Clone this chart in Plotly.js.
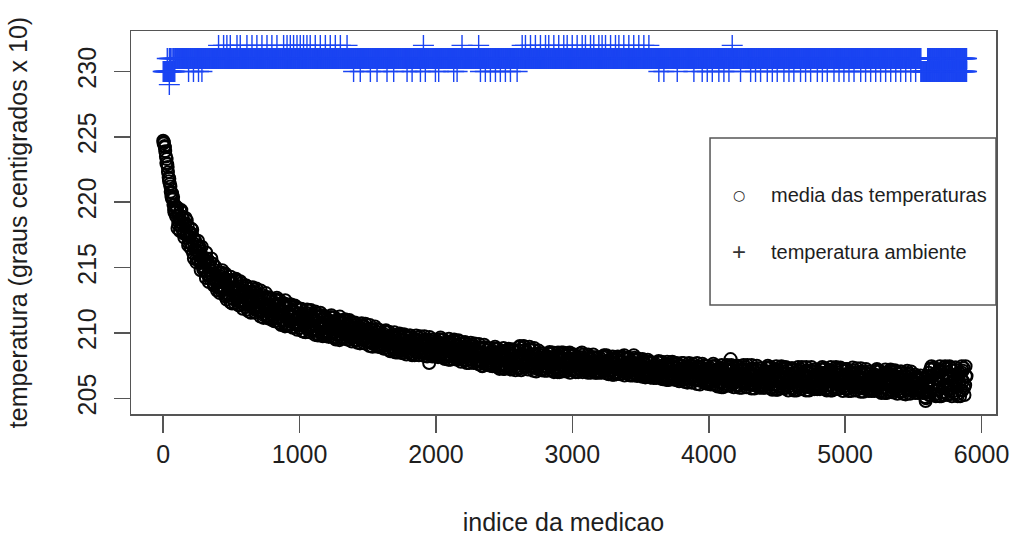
<!DOCTYPE html>
<html>
<head>
<meta charset="utf-8">
<script src="https://cdn.plot.ly/plotly-3.0.1.min.js"></script>
<style>
html, body { margin: 0; padding: 0; background: #ffffff; }
#chart { width: 1013px; height: 536px; }
</style>
</head>
<body>
<div id="chart"></div>
<script>
// ---------- DATA ----------
// mean temperature (graus centigrados x 10), sampled readings.
// mediaY: indices 0, 10, 20, ... ; mediaYOdd: indices 5, 15, ... ; mediaYMid: indices 3, 13, ...
const SAMPLE_STEP = 10;
const mediaY = [
  224.7, 224.3, 223.5, 222.9, 221.9, 221.4, 220.5, 220.2, 219.4, 219.3,
  219.4, 218.3, 218.7, 218.2, 218.9, 217.6, 218.3, 217.5, 218.2, 217.4,
  216.9, 217.6, 216.1, 216.8, 216.3, 216.6, 215.5, 216.5, 215.4, 215.8,
  215.5, 214.7, 215.7, 214.4, 215.2, 214.5, 214.7, 213.8, 214.8, 213.9,
  213.5, 214.4, 213.9, 214.6, 213.3, 214.2, 212.9, 213.6, 213.3, 214.0,
  213.9, 212.6, 213.3, 212.8, 214.0, 212.2, 213.3, 212.4, 213.6, 212.8,
  212.35, 213.45, 211.8, 212.85, 212.45, 213.1, 211.9, 213.3, 212.15, 212.75,
  212.55, 211.65, 212.95, 211.4, 212.6, 211.8, 212.1, 211.15, 212.55, 211.5,
  211.1, 212.2, 211.75, 212.55, 211.2, 212.15, 210.75, 211.65, 211.4, 212.25,
  212.05, 210.65, 211.45, 210.9, 212.15, 210.4, 211.6, 210.7, 211.9, 211.1,
  210.7, 211.8, 210.15, 211.25, 210.85, 211.5, 210.3, 211.7, 210.6, 211.2,
  211.05, 210.15, 211.5, 209.95, 211.2, 210.4, 210.75, 209.75, 211.2, 210.15,
  209.9, 210.85, 210.5, 211.2, 210.0, 210.9, 209.65, 210.5, 210.25, 211.0,
  210.85, 209.7, 210.4, 209.95, 210.95, 209.5, 210.5, 209.75, 210.75, 210.1,
  209.85, 210.6, 209.4, 210.2, 209.9, 210.4, 209.5, 210.55, 209.7, 210.1,
  210.05, 209.35, 210.35, 209.2, 210.05, 209.5, 209.75, 209.0, 210.05, 209.35,
  209.0, 209.75, 209.5, 210.1, 209.05, 209.75, 208.7, 209.45, 209.2, 209.85,
  209.7, 208.7, 209.3, 208.95, 209.85, 208.5, 209.4, 208.8, 209.65, 209.1,
  208.85, 209.65, 208.4, 209.25, 208.95, 209.5, 208.55, 209.65, 208.8, 209.25,
  209.2, 208.55, 209.5, 208.4, 209.3, 207.7, 209.0, 208.25, 209.35, 208.65,
  208.35, 209.2, 208.85, 209.5, 208.45, 209.2, 208.15, 208.9, 208.65, 209.3,
  209.25, 208.2, 208.8, 208.4, 209.35, 208.0, 208.95, 208.25, 209.15, 208.6,
  208.3, 209.15, 207.9, 208.7, 208.4, 209.0, 207.95, 209.1, 208.2, 208.7,
  208.6, 207.9, 208.9, 207.75, 207.45, 208.1, 208.35, 207.6, 208.7, 207.9,
  207.65, 208.5, 208.15, 208.8, 207.7, 208.5, 207.45, 208.15, 207.95, 208.6,
  208.55, 207.5, 208.1, 207.7, 208.65, 207.2, 208.25, 207.55, 208.5, 207.95,
  207.65, 208.9, 207.3, 208.15, 207.85, 208.95, 207.45, 208.55, 207.7, 208.2,
  208.1, 207.4, 208.85, 207.3, 208.25, 207.6, 207.95, 207.2, 208.3, 207.5,
  207.25, 208.05, 207.8, 208.45, 207.45, 208.15, 207.1, 207.85, 207.65, 208.3,
  208.2, 207.2, 208.5, 207.5, 208.4, 207.1, 207.95, 207.35, 208.5, 207.7,
  207.45, 208.25, 207.05, 207.9, 207.6, 208.15, 207.2, 208.5, 207.45, 207.9,
  207.85, 207.2, 208.2, 207.1, 208.0, 207.4, 207.7, 206.95, 208.05, 207.35,
  207.05, 207.85, 207.6, 208.25, 207.2, 208.3, 206.9, 207.65, 207.4, 208.05,
  207.95, 206.95, 207.6, 207.25, 208.15, 206.85, 207.75, 207.1, 208.3, 207.45,
  207.2, 208.0, 206.8, 207.6, 207.3, 208.3, 206.9, 208.0, 207.15, 207.6,
  207.55, 206.9, 207.85, 206.75, 207.6, 207.05, 207.35, 206.6, 207.7, 206.95,
  206.7, 207.4, 207.2, 207.75, 206.85, 207.45, 206.55, 207.25, 207.0, 207.6,
  207.55, 206.6, 207.2, 206.85, 207.65, 206.45, 207.3, 206.7, 207.5, 207.0,
  206.75, 207.5, 206.4, 207.2, 206.9, 207.4, 206.5, 207.5, 206.7, 207.15,
  207.1, 206.45, 207.45, 206.35, 207.2, 206.65, 206.95, 206.2, 207.25, 206.55,
  206.2, 207.1, 206.8, 207.45, 206.35, 207.15, 206.05, 206.8, 206.6, 207.3,
  207.2, 206.1, 206.8, 206.4, 207.4, 206.0, 208.0, 206.3, 207.3, 206.7,
  206.4, 207.35, 205.95, 206.9, 206.6, 207.2, 206.15, 207.4, 206.45, 206.95,
  206.85, 206.1, 207.3, 206.0, 207.05, 206.45, 206.7, 205.85, 207.1, 206.3,
  205.95, 206.95, 206.6, 207.35, 206.15, 207.05, 205.8, 206.65, 206.45, 207.2,
  207.1, 205.9, 206.65, 206.2, 207.3, 205.8, 206.85, 206.05, 207.15, 206.5,
  206.15, 207.15, 205.75, 206.7, 206.4, 207.05, 205.95, 207.25, 206.3, 206.85,
  206.7, 205.95, 207.15, 205.85, 206.95, 206.3, 206.6, 205.75, 207.05, 206.15,
  205.85, 206.85, 206.5, 207.25, 206.05, 206.95, 205.75, 206.6, 206.4, 207.15,
  207.0, 205.85, 206.6, 206.2, 207.25, 205.75, 206.8, 206.05, 207.1, 206.45,
  206.15, 207.1, 205.7, 206.65, 206.35, 206.95, 205.9, 207.15, 206.2, 206.7,
  206.6, 205.85, 207.05, 205.75, 206.8, 206.2, 206.45, 205.65, 206.85, 206.05,
  205.7, 206.65, 206.35, 207.1, 205.9, 206.7, 205.55, 206.4, 206.2, 206.95,
  206.8, 205.65, 206.4, 206.0, 207.05, 205.55, 206.55, 205.85, 206.9, 206.25,
  205.95, 206.9, 205.5, 206.45, 206.1, 206.7, 205.65, 206.9, 205.95, 206.45,
  206.25, 205.65, 206.65, 205.55, 206.4, 205.9, 206.1, 205.4, 206.45, 204.8,
  205.45, 206.7, 206.3, 207.3, 205.75, 206.85, 205.3, 206.45, 206.15, 207.15,
  207.0, 205.45, 206.45, 205.9, 207.3, 205.3, 206.7, 205.75, 207.15, 206.3,
  205.9, 207.15, 205.3, 206.6, 206.15, 207.0, 205.6, 207.3, 206.0, 206.7
];
const ODD_OFFSET = 5;
const mediaYOdd = [
  224.6, 223.9, 223.3, 222.3, 221.8, 220.8, 220.7, 219.8, 219.8, 218.9,
  218.0, 218.95, 219.35, 218.0, 218.75, 217.3, 218.8, 217.6, 216.9, 217.7,
  218.0, 216.7, 215.7, 217.05, 215.7, 217.05, 215.9, 214.8, 215.9, 215.05,
  215.35, 216.15, 214.5, 213.9, 215.4, 214.55, 215.3, 213.75, 214.45, 213.25,
  213.6, 213.05, 214.6, 214.1, 213.5, 214.55, 212.55, 214.0, 212.85, 214.3,
  212.25, 213.4, 214.05, 212.65, 213.6, 212.1, 213.95, 212.8, 212.2, 213.25,
  213.65, 212.5, 211.65, 213.15, 212.0, 213.5, 212.45, 211.55, 212.75, 212.0,
  212.4, 213.25, 211.65, 211.15, 212.75, 211.95, 212.75, 211.3, 212.1, 211.0,
  211.4, 210.9, 212.5, 212.05, 211.45, 212.5, 210.6, 212.1, 210.95, 212.5,
  210.55, 211.6, 212.15, 210.9, 211.75, 210.45, 212.1, 211.05, 210.55, 211.5,
  211.85, 210.85, 210.1, 211.45, 210.45, 211.8, 210.9, 210.05, 211.15, 210.5,
  210.9, 211.65, 210.25, 209.8, 211.3, 210.55, 211.35, 210.0, 210.8, 209.75,
  210.15, 209.7, 211.2, 210.75, 210.25, 211.2, 209.5, 210.9, 209.85, 211.25,
  209.55, 210.5, 211.0, 209.9, 210.7, 209.5, 211.0, 210.05, 209.6, 210.45,
  210.8, 209.85, 209.25, 210.45, 209.55, 210.75, 209.95, 209.2, 210.15, 209.6,
  209.95, 210.6, 209.35, 208.95, 210.25, 209.6, 210.3, 209.1, 209.8, 208.9,
  209.2, 208.8, 210.1, 209.7, 209.25, 210.1, 208.6, 209.8, 208.85, 210.05,
  208.5, 209.4, 209.9, 208.85, 209.65, 208.45, 209.9, 209.0, 208.6, 209.45,
  209.8, 208.95, 208.3, 209.5, 208.6, 209.8, 209.05, 208.3, 209.25, 208.75,
  209.1, 209.75, 208.55, 208.2, 209.45, 208.85, 209.5, 208.4, 209.05, 208.2,
  208.55, 208.15, 209.5, 209.1, 208.6, 209.5, 208.0, 209.2, 208.3, 209.55,
  207.95, 208.9, 209.4, 208.35, 209.1, 207.95, 209.45, 208.5, 208.05, 208.95,
  209.25, 208.35, 207.7, 208.95, 208.05, 209.25, 208.45, 207.7, 208.65, 208.15,
  208.5, 209.15, 207.9, 207.5, 208.85, 208.15, 208.9, 207.65, 208.4, 207.5,
  207.85, 207.45, 208.8, 208.35, 207.9, 208.8, 207.25, 208.5, 207.6, 208.85,
  207.25, 208.25, 208.7, 207.65, 208.45, 207.3, 208.75, 207.85, 207.4, 208.3,
  208.65, 209.0, 207.15, 208.4, 207.5, 208.7, 207.9, 207.2, 208.95, 207.65,
  208.0, 208.7, 207.45, 207.05, 208.4, 207.75, 208.45, 207.25, 208.0, 207.1,
  207.45, 207.1, 208.4, 208.05, 207.65, 208.5, 207.0, 208.2, 207.3, 208.5,
  207.0, 207.9, 208.45, 207.4, 208.2, 207.05, 208.45, 207.6, 207.2, 208.05,
  208.35, 207.55, 207.0, 208.1, 207.3, 208.4, 207.65, 207.0, 207.9, 207.4,
  207.75, 208.35, 207.25, 206.95, 208.15, 207.55, 208.15, 207.1, 207.75, 206.95,
  207.3, 206.95, 208.15, 207.8, 207.4, 208.2, 206.85, 207.9, 207.1, 208.2,
  206.8, 207.65, 208.15, 207.2, 207.9, 206.85, 208.2, 207.35, 206.95, 207.75,
  208.1, 207.3, 206.75, 207.8, 207.0, 208.1, 207.4, 206.7, 207.6, 207.1,
  207.45, 208.0, 206.9, 206.6, 207.8, 207.15, 207.8, 206.75, 207.35, 206.55,
  206.9, 206.55, 207.75, 207.4, 207.0, 207.8, 206.45, 207.55, 206.7, 207.8,
  206.4, 207.25, 207.75, 206.75, 207.45, 206.4, 207.7, 206.95, 206.5, 207.3,
  207.7, 206.85, 206.25, 207.4, 206.5, 207.7, 206.95, 206.2, 207.15, 206.65,
  207.0, 207.7, 206.45, 206.05, 207.4, 206.75, 207.5, 206.3, 207.0, 206.1,
  206.4, 206.05, 207.45, 207.1, 206.55, 207.5, 205.9, 207.25, 206.2, 207.55,
  205.85, 206.9, 207.45, 206.3, 207.2, 205.95, 207.55, 206.6, 206.15, 207.1,
  207.5, 206.5, 205.8, 207.2, 206.2, 207.55, 206.65, 205.85, 206.95, 206.35,
  206.75, 207.55, 206.15, 205.75, 207.25, 206.55, 207.3, 206.0, 206.8, 205.8,
  206.2, 205.8, 207.3, 206.9, 206.4, 207.4, 205.65, 207.05, 206.05, 207.45,
  205.65, 206.75, 207.35, 206.15, 207.05, 205.75, 207.4, 206.4, 205.9, 206.9,
  207.3, 206.3, 205.6, 207.0, 206.0, 207.4, 206.5, 205.7, 206.8, 206.2,
  206.6, 207.4, 206.0, 205.6, 207.1, 206.4, 207.2, 205.9, 206.7, 205.7,
  206.1, 205.7, 207.2, 206.8, 206.3, 207.3, 205.6, 207.0, 206.0, 207.4,
  205.6, 206.7, 207.3, 206.1, 207.0, 205.7, 207.35, 206.35, 205.85, 206.85,
  207.25, 206.25, 205.55, 206.95, 205.95, 207.35, 206.4, 205.6, 206.7, 206.1,
  206.5, 207.3, 205.9, 205.5, 207.0, 206.3, 207.05, 205.75, 206.55, 205.55,
  205.95, 205.55, 207.05, 206.65, 206.15, 207.1, 205.4, 206.8, 205.8, 207.2,
  205.4, 206.5, 207.1, 205.9, 206.8, 205.45, 207.15, 206.15, 205.65, 206.65,
  207.05, 206.05, 205.35, 206.7, 205.7, 207.1, 206.2, 205.35, 206.45, 205.85,
  206.2, 206.8, 205.7, 205.4, 206.5, 205.95, 206.55, 205.55, 205.1, 205.4,
  205.8, 205.25, 207.2, 206.7, 206.05, 207.35, 205.15, 206.95, 205.65, 207.45,
  205.15, 206.55, 207.35, 205.8, 206.95, 205.25, 207.45, 206.15, 205.5, 206.8,
  207.35, 206.05, 205.15, 206.95, 205.65, 207.45, 206.3, 205.25, 206.7
];
const MID_OFFSET = 3;
const mediaYMid = [
  224.5, 224.2, 223.0, 222.7, 221.6, 221.2, 220.3, 220.4, 219.2, 219.6,
  219.6, 218.5, 217.8, 219.4, 218.3, 217.7, 218.4, 218.6, 216.7, 217.6,
  216.45, 217.9, 217.25, 216.4, 215.4, 216.2, 216.65, 215.35, 216.6, 214.85,
  215.65, 214.2, 215.65, 215.1, 214.15, 215.7, 214.25, 213.6, 215.05, 214.2,
  213.9, 214.55, 213.25, 214.8, 214.05, 212.8, 213.8, 212.95, 214.05, 212.35,
  213.95, 212.9, 212.3, 214.15, 213.1, 212.45, 213.4, 213.8, 211.85, 213.0,
  212.0, 213.6, 213.1, 212.4, 211.55, 212.6, 213.15, 212.0, 213.4, 211.7,
  212.65, 211.25, 212.75, 212.25, 211.45, 213.05, 211.65, 211.1, 212.7, 211.9,
  211.65, 212.35, 211.1, 212.7, 212.05, 210.75, 211.8, 211.0, 212.15, 210.5,
  212.05, 211.1, 210.55, 212.2, 211.3, 210.75, 211.6, 212.0, 210.25, 211.3,
  210.4, 211.85, 211.4, 210.8, 210.05, 211.0, 211.5, 210.45, 211.75, 210.2,
  211.1, 209.85, 211.25, 210.8, 210.1, 211.55, 210.35, 209.8, 211.3, 210.55,
  210.35, 211.0, 209.9, 211.35, 210.75, 209.65, 210.6, 209.9, 210.95, 209.45,
  210.9, 210.05, 209.6, 211.05, 210.25, 209.75, 210.55, 210.85, 209.35, 210.3,
  209.45, 210.75, 210.4, 209.8, 209.2, 210.05, 210.5, 209.55, 210.7, 209.3,
  210.1, 209.0, 210.25, 209.85, 209.15, 210.5, 209.4, 208.95, 210.25, 209.6,
  209.4, 209.95, 209.0, 210.2, 209.65, 208.7, 209.5, 208.9, 209.8, 208.55,
  209.75, 209.0, 208.5, 209.95, 209.2, 208.7, 209.5, 209.85, 208.35, 209.25,
  208.5, 209.8, 209.4, 208.9, 208.3, 209.15, 209.5, 208.65, 209.75, 208.5,
  209.25, 208.25, 209.4, 209.05, 208.45, 209.7, 208.65, 208.2, 209.5, 208.9,
  208.7, 209.35, 208.3, 209.65, 209.1, 208.1, 209.0, 208.35, 209.3, 207.95,
  209.3, 208.5, 208.0, 209.5, 208.7, 208.2, 209.0, 209.35, 207.8, 208.8,
  207.95, 209.3, 208.9, 208.3, 207.7, 208.6, 209.0, 208.1, 209.2, 207.85,
  208.65, 207.6, 208.8, 208.4, 207.75, 209.1, 208.0, 207.55, 208.85, 208.2,
  208.0, 208.65, 207.6, 208.95, 208.35, 207.4, 208.3, 207.6, 208.6, 207.25,
  208.6, 207.8, 207.3, 208.8, 208.0, 207.55, 208.3, 208.65, 207.15, 208.15,
  207.3, 208.65, 208.3, 207.75, 209.0, 208.05, 208.5, 207.6, 208.75, 207.4,
  208.15, 207.1, 208.3, 207.95, 207.3, 208.65, 207.6, 207.15, 208.45, 207.8,
  207.65, 208.25, 207.3, 208.55, 208.05, 207.1, 207.9, 207.3, 208.25, 207.0,
  208.25, 207.5, 207.05, 208.5, 207.75, 207.3, 208.05, 208.4, 206.95, 207.85,
  207.15, 208.35, 208.0, 207.55, 207.0, 207.8, 208.15, 207.35, 208.35, 207.15,
  207.9, 206.95, 208.05, 207.75, 207.15, 208.35, 207.4, 206.95, 208.15, 207.6,
  207.45, 208.0, 207.1, 208.3, 207.8, 206.9, 207.7, 207.15, 208.0, 206.8,
  208.0, 207.25, 206.85, 208.2, 207.5, 207.1, 207.8, 208.1, 206.75, 207.6,
  206.9, 208.1, 207.75, 207.3, 206.75, 207.5, 207.9, 207.1, 208.05, 206.85,
  207.6, 206.65, 207.7, 207.4, 206.8, 207.95, 207.05, 206.6, 207.75, 207.2,
  207.05, 207.6, 206.7, 207.85, 207.4, 206.5, 207.3, 206.75, 207.6, 206.4,
  207.6, 206.85, 206.45, 207.8, 207.05, 206.65, 207.35, 207.65, 206.3, 207.15,
  206.4, 207.7, 207.35, 206.85, 206.2, 207.05, 207.45, 206.6, 207.65, 206.4,
  207.15, 206.1, 207.35, 207.0, 206.35, 207.65, 206.6, 206.15, 207.45, 206.8,
  206.6, 207.3, 206.25, 207.65, 207.05, 206.0, 206.95, 206.25, 207.25, 205.85,
  207.25, 206.4, 205.95, 207.55, 206.7, 206.2, 207.1, 207.45, 205.85, 206.9,
  206.0, 207.5, 207.1, 206.5, 205.8, 206.8, 207.25, 206.25, 207.55, 206.05,
  206.95, 205.75, 207.15, 206.75, 206.05, 207.5, 206.3, 205.8, 207.3, 206.6,
  206.4, 207.1, 206.0, 207.5, 206.9, 205.8, 206.75, 206.05, 207.15, 205.65,
  207.15, 206.25, 205.75, 207.45, 206.55, 206.0, 206.9, 207.3, 205.6, 206.7,
  205.8, 207.3, 206.9, 206.3, 205.6, 206.6, 207.1, 206.1, 207.4, 205.9,
  206.8, 205.6, 207.0, 206.6, 205.9, 207.4, 206.2, 205.7, 207.2, 206.5,
  206.3, 207.0, 205.9, 207.4, 206.8, 205.7, 206.7, 206.0, 207.1, 205.6,
  207.1, 206.2, 205.7, 207.4, 206.5, 206.0, 206.85, 207.25, 205.55, 206.65,
  205.75, 207.25, 206.85, 206.25, 205.55, 206.5, 207.0, 206.0, 207.3, 205.8,
  206.7, 205.5, 206.9, 206.5, 205.8, 207.25, 206.05, 205.55, 207.05, 206.35,
  206.15, 206.85, 205.75, 207.25, 206.65, 205.55, 206.5, 205.8, 206.9, 205.4,
  206.9, 206.0, 205.5, 207.2, 206.3, 205.75, 206.65, 207.05, 205.35, 206.45,
  205.55, 207.05, 206.65, 206.0, 205.3, 206.3, 206.8, 205.8, 207.05, 205.55,
  206.3, 205.4, 206.45, 206.15, 205.6, 206.75, 205.85, 205.45, 206.5, 205.0,
  206.05, 206.95, 205.5, 207.45, 206.7, 205.25, 206.55, 205.65, 207.1, 205.15,
  207.1, 205.9, 205.25, 207.45, 206.3, 205.65, 206.8, 207.35, 205.15, 206.55,
  205.4, 207.35, 206.8, 206.05, 205.15, 206.45, 207.1, 205.8, 207.45
];

// ambient temperature: runs of constant reading (index ranges) ...
const ambRunStart = [0,   85,   5555, 5605, 5605];
const ambRunEnd   = [85,  5555, 5605, 5890, 5890];
const ambRunLevel = [230, 231,  230,  231,  230];
// ... plus isolated readings at other levels (indices)
const amb229X = [45];
const amb231X = [30, 45, 55, 65, 75];
const amb232X = [406, 443, 467, 492, 541, 565, 614, 651, 687, 724, 761, 797, 834, 883, 908, 932,
  956, 981, 1005, 1029, 1054, 1078, 1115, 1152, 1189, 1225, 1262, 1299, 1348, 1908, 2191, 2313,
  2632, 2656, 2693, 2729, 2766, 2803, 2827, 2864, 2900, 2937, 2962, 2999, 3035, 3072, 3096, 3133,
  3157, 3194, 3218, 3243, 3280, 3316, 3341, 3377, 3414, 3450, 3487, 3524, 3561, 4172];
const amb230X = [186, 222, 259, 284, 1396, 1445, 1519, 1568, 1641, 1690, 1788, 1825, 1886, 1922,
  1996, 2020, 2130, 2155, 2326, 2362, 2399, 2436, 2472, 2509, 2546, 2595, 3634, 3671, 3769, 3891,
  3952, 3989, 4026, 4074, 4111, 4148, 4233, 4307, 4343, 4380, 4429, 4466, 4502, 4551, 4588, 4624,
  4673, 4710, 4747, 4796, 4833, 4869, 4918, 4955, 4991, 5028, 5065, 5114, 5150, 5187, 5224, 5260,
  5297, 5334, 5371, 5407, 5444, 5481, 5517];

const xTickVals = [0, 1000, 2000, 3000, 4000, 5000, 6000];
const xTickText = ['0', '1000', '2000', '3000', '4000', '5000', '6000'];
const yTickVals = [205, 210, 215, 220, 225, 230];
const yTickText = ['205', '210', '215', '220', '225', '230'];

const seriesNames = ['media das temperaturas', 'temperatura ambiente'];
const legendSymbols = ['\u25CB', '+'];
const xTitle = 'indice da medicao';
const yTitle = 'temperatura (graus centigrados x 10)';

// ---------- BUILD TRACES ----------
const mediaX = [], mediaAllY = [];
[[mediaY, 0], [mediaYMid, MID_OFFSET], [mediaYOdd, ODD_OFFSET]].forEach(([arr, off]) => {
  arr.forEach((v, i) => { mediaX.push(i * SAMPLE_STEP + off); mediaAllY.push(v); });
});

const RUN_DRAW_STEP = 5;
const ambX = [], ambY = [];
for (let r = 0; r < ambRunStart.length; r++) {
  for (let i = ambRunStart[r]; i <= ambRunEnd[r]; i += RUN_DRAW_STEP) {
    ambX.push(i); ambY.push(ambRunLevel[r]);
  }
}
[[amb229X, 229], [amb230X, 230], [amb231X, 231], [amb232X, 232]].forEach(([xs, lvl]) => {
  xs.forEach(x => { ambX.push(x); ambY.push(lvl); });
});

const FONT = '"Liberation Sans", Arial, Helvetica, sans-serif';
const AX = '#555555';
const TXT = '#1e1e1e';
const BLUE = '#1a44f2';

const traces = [
  {
    type: 'scatter', mode: 'markers', name: seriesNames[0],
    x: mediaX, y: mediaAllY,
    marker: { symbol: 'circle-open', size: 12, color: '#000000', line: { width: 2.0, color: '#000000' } },
    hoverinfo: 'skip', showlegend: false
  },
  {
    type: 'scatter', mode: 'markers', name: seriesNames[1],
    x: ambX, y: ambY,
    marker: { symbol: 'cross-thin-open', size: 15, color: BLUE, line: { width: 1.4, color: BLUE } },
    hoverinfo: 'skip', showlegend: false
  }
];

// legend (R style: black symbols, framed box)
const LEG_SYM_X = 0.7029, LEG_TXT_X = 0.7376;
const LEG_ROW_Y = [0.5718, 0.4230];
const annotations = [
  { text: legendSymbols[0], x: LEG_SYM_X, y: LEG_ROW_Y[0], font: { family: '"DejaVu Sans", sans-serif', size: 14, color: TXT } },
  { text: legendSymbols[1], x: LEG_SYM_X, y: LEG_ROW_Y[1], font: { family: FONT, size: 24, color: '#333333' } },
  { text: seriesNames[0], x: LEG_TXT_X, y: LEG_ROW_Y[0], xanchor: 'left', font: { family: FONT, size: 20, color: TXT } },
  { text: seriesNames[1], x: LEG_TXT_X, y: LEG_ROW_Y[1], xanchor: 'left', font: { family: FONT, size: 20, color: TXT } }
].map(a => Object.assign({ xref: 'paper', yref: 'paper', showarrow: false, xanchor: 'center', yanchor: 'middle' }, a));

const layout = {
  width: 1013, height: 536,
  margin: { l: 131, r: 17, t: 31, b: 122 },
  paper_bgcolor: '#ffffff', plot_bgcolor: '#ffffff',
  font: { family: FONT, color: TXT, size: 25 },
  showlegend: false,
  xaxis: {
    range: [-236, 6106], tickmode: 'array', tickvals: xTickVals, ticktext: xTickText,
    showgrid: false, zeroline: false, showline: true, mirror: true,
    linecolor: AX, linewidth: 1.5,
    ticks: 'outside', ticklen: 17, tickwidth: 1.5, tickcolor: AX,
    tickfont: { family: FONT, size: 25, color: TXT },
    title: { text: xTitle, font: { family: FONT, size: 25, color: TXT }, standoff: 47 }
  },
  yaxis: {
    range: [203.8, 233.1], tickmode: 'array', tickvals: yTickVals, ticktext: yTickText,
    tickangle: -90, ticklabelstandoff: 8,
    showgrid: false, zeroline: false, showline: true, mirror: true,
    linecolor: AX, linewidth: 1.5,
    ticks: 'outside', ticklen: 16, tickwidth: 1.5, tickcolor: AX,
    tickfont: { family: FONT, size: 25, color: TXT },
    title: { text: yTitle, font: { family: FONT, size: 25, color: TXT }, standoff: 38 }
  },
  annotations: annotations,
  shapes: [
    { type: 'rect', xref: 'paper', yref: 'paper', x0: 0.6694, x1: 1.0, y0: 0.2846, y1: 0.7206,
      line: { color: AX, width: 1.5 }, fillcolor: 'rgba(0,0,0,0)', layer: 'above' }
  ]
};

Plotly.newPlot('chart', traces, layout, { staticPlot: true, displayModeBar: false });
</script>
</body>
</html>
